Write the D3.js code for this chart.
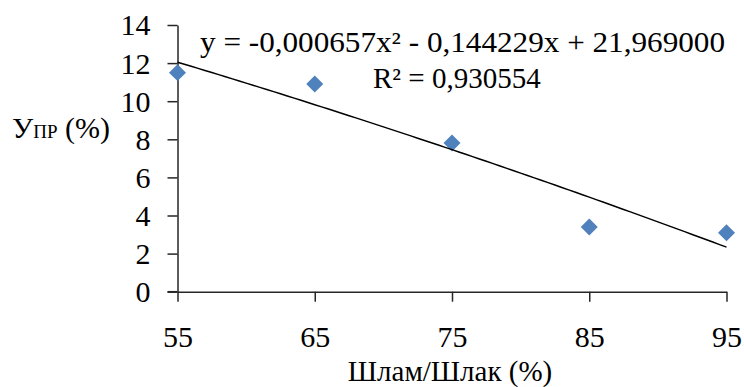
<!DOCTYPE html>
<html><head><meta charset="utf-8">
<script src="https://cdn.jsdelivr.net/npm/d3@7"></script>
<style>body{margin:0;background:#fff}svg{display:block}text{font-family:'Liberation Serif','Times New Roman',serif}</style>
</head><body><svg id="c" width="744" height="387"></svg>
<script>
const xValues = [55, 65, 75, 85, 95];
const yValues = [11.5, 10.9, 7.8, 3.4, 3.1];
const xTicks = [55, 65, 75, 85, 95];
const yTicks = [0, 2, 4, 6, 8, 10, 12, 14];
const trendCoef = [-0.000657, -0.144229, 21.969000];
const eqText = "y = -0,000657x² - 0,144229x + 21,969000";
const r2Text = "R² = 0,930554";

const svg = d3.select("#c");
const font = "'Liberation Serif','Times New Roman',serif";
const x = d3.scaleLinear().domain([55, 95]).range([177.5, 726.5]);
const y = d3.scaleLinear().domain([0, 14]).range([291.7, 25]);

const axisColor = "#262626";
const yAxis = svg.append("g").attr("transform", "translate(177.5,0)")
  .call(d3.axisLeft(y).tickValues(yTicks).tickSize(10).tickPadding(17).tickSizeOuter(0));
const xAxis = svg.append("g").attr("transform", "translate(0,291.7)")
  .call(d3.axisBottom(x).tickValues(xTicks).tickSize(10).tickPadding(24).tickSizeOuter(0));
[xAxis, yAxis].forEach(g => {
  g.attr("font-family", font);
  g.selectAll("path,line").attr("stroke", axisColor).attr("stroke-width", 1.5);
  g.selectAll("text").attr("font-family", font).attr("font-size", 30).attr("fill", "#000");
});
yAxis.selectAll("text").attr("dy", "0.33em");
svg.append("line").attr("x1", 167.5).attr("x2", 177.5).attr("y1", 291.7).attr("y2", 291.7)
  .attr("stroke", axisColor).attr("stroke-width", 1.5);

// markers
svg.append("g").selectAll("path").data(xValues.map((v, i) => [v, yValues[i]])).join("path")
  .attr("d", d3.symbol().type(d3.symbolSquare).size(144))
  .attr("transform", d => `translate(${x(d[0])},${y(d[1])}) rotate(45)`)
  .attr("fill", "#4F81BD");

// trendline
const samples = d3.range(55, 95.01, 0.5);
const f = v => trendCoef[0] * v * v + trendCoef[1] * v + trendCoef[2];
svg.append("path").datum(samples)
  .attr("d", d3.line().x(d => x(d)).y(d => y(f(d))))
  .attr("fill", "none").attr("stroke", "#000").attr("stroke-width", 1.5);

// equation labels
svg.append("text").attr("x", 200).attr("y", 52).attr("font-family", font).attr("font-size", 29)
  .attr("textLength", 525).attr("lengthAdjust", "spacingAndGlyphs").text(eqText);
svg.append("text").attr("x", 373).attr("y", 88).attr("font-family", font).attr("font-size", 29).text(r2Text);

// axis titles
const yl = svg.append("text").attr("x", 12).attr("y", 138).attr("font-family", font).attr("font-size", 30);
yl.append("tspan").text("У");
yl.append("tspan").attr("font-size", 19).text("ПР");
yl.append("tspan").text(" (%)");
svg.append("text").attr("x", 450).attr("y", 381).attr("text-anchor", "middle")
  .attr("font-family", font).attr("font-size", 29).text("Шлам/Шлак (%)");
</script></body></html>
